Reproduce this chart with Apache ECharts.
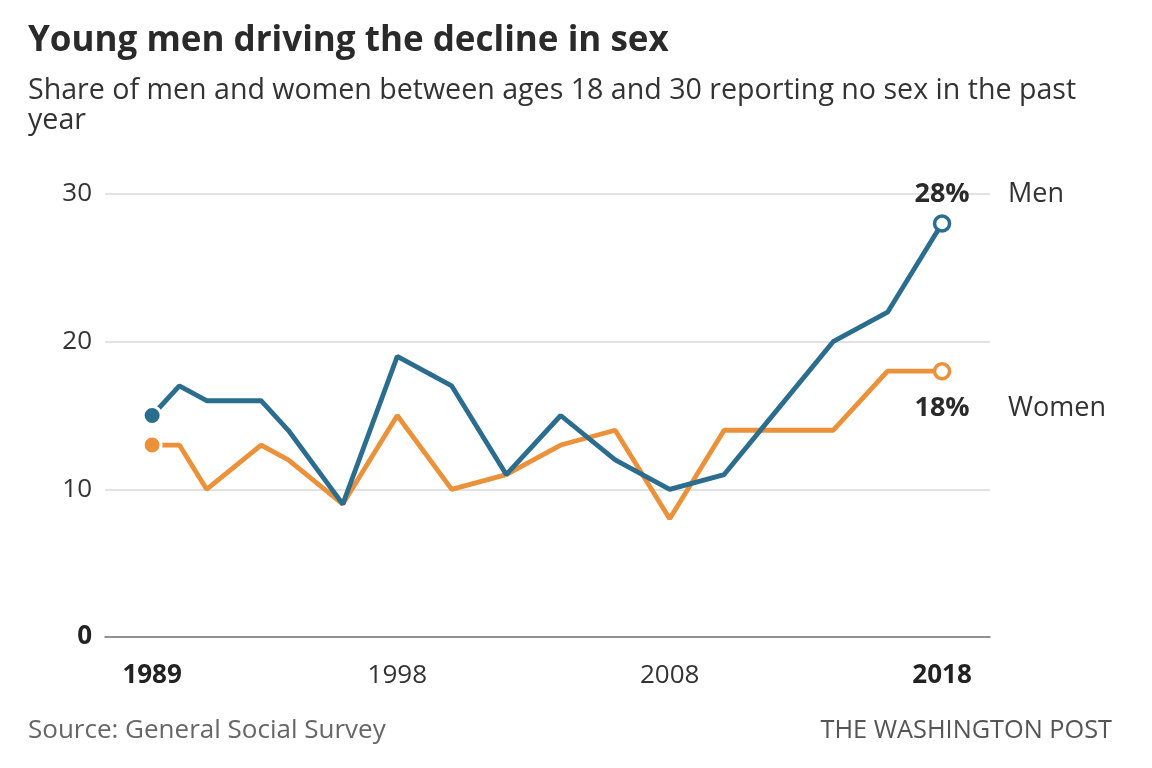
<!DOCTYPE html>
<html>
	<head>
		<meta charset="UTF-8">
		<title>Young men driving the decline in sex</title>
		<script src="https://cdn.jsdelivr.net/npm/echarts@6/dist/echarts.min.js" type="text/javascript" charset="utf-8"></script>
		<style>
			html, body { margin: 0; padding: 0; background: #fff; }
			#chart { width: 1152px; height: 768px; }
		</style>
	</head>
	<body>
		<div id="chart"></div>
		<script type="text/javascript">
			// 数据
			var years = [1989, 1990, 1991, 1993, 1994, 1996, 1998, 2000, 2002, 2004, 2006, 2008, 2010, 2012, 2014, 2016, 2018];
			var men = [15, 17, 16, 16, 14, 9, 19, 17, 11, 15, 12, 10, 11, 15.5, 20, 22, 28];
			var women = [13, 13, 10, 13, 12, 9, 15, 10, 11, 13, 14, 8, 14, 14, 14, 18, 18];
			var yearTicks = [1989, 1998, 2008, 2018];
			var boldYears = [1989, 2018];
			var valueTicks = [0, 10, 20, 30];

			var menColor = '#2b6d8e';
			var womenColor = '#eb9139';
			var font = '"Open Sans", Roboto, sans-serif';

			function buildData(values, color) {
				var out = [];
				for (var i = 0; i < values.length; i++) {
					var item = { value: [years[i], values[i]], symbolSize: 0 };
					if (i === 0) {
						// 起点：实心圆，白边留出空隙
						item.symbolSize = 18;
						item.itemStyle = { color: color, borderColor: '#fff', borderWidth: 3 };
					} else if (i === values.length - 1) {
						// 终点：空心圆
						item.symbolSize = 15;
						item.itemStyle = { color: '#fff', borderColor: color, borderWidth: 3.5 };
					}
					out.push(item);
				}
				return out;
			}

			function endMarks(values, pctDy, name) {
				var last = values.length - 1;
				var coord = [years[last], values[last]];
				return {
					symbol: 'circle',
					symbolSize: 0,
					silent: true,
					data: [
						{
							coord: coord,
							label: {
								show: true, formatter: values[last] + '%',
								offset: [0, pctDy], align: 'center', verticalAlign: 'middle',
								fontFamily: font, fontSize: 27, fontWeight: 'bold', color: '#2a2a2a'
							}
						},
						{
							coord: coord,
							label: {
								show: true, formatter: name,
								offset: [66, pctDy], align: 'left', verticalAlign: 'middle',
								fontFamily: font, fontSize: 27, color: '#333'
							}
						}
					]
				};
			}

			var myChart = echarts.init(document.getElementById('chart'));
			var option = {
				animation: false,
				title: [
					{
						text: 'Young men driving the decline in sex',
						left: 28, top: 21, padding: 0,
						textStyle: { fontFamily: font, fontSize: 35, fontWeight: 'bold', color: '#2a2a2a', lineHeight: 40 }
					},
					{
						text: 'Share of men and women between ages 18 and 30 reporting no sex in the past\nyear',
						left: 28, top: 76, padding: 0,
						textStyle: { fontFamily: font, fontSize: 28.6, fontWeight: 'normal', color: '#333', lineHeight: 30 }
					},
					{
						text: 'Source: General Social Survey',
						left: 28, top: 718, padding: 0,
						textStyle: { fontFamily: font, fontSize: 26, fontWeight: 'normal', color: '#666', lineHeight: 26 }
					},
					{
						text: 'THE WASHINGTON POST',
						right: 40, top: 718, padding: 0,
						textStyle: { fontFamily: font, fontSize: 25.3, fontWeight: 'normal', color: '#555', lineHeight: 26 }
					}
				],
				grid: { left: 105, right: 162, top: 194, bottom: 131, containLabel: false },
				xAxis: {
					type: 'value',
					min: 1987.27,
					max: 2019.76,
					splitLine: { show: false },
					axisTick: { show: false },
					axisLine: { show: true, lineStyle: { color: '#777', width: 1.5 } },
					axisLabel: {
						customValues: yearTicks,
						margin: 26,
						fontFamily: font, fontSize: 26, color: '#333',
						formatter: function (v) {
							return boldYears.indexOf(v) >= 0 ? '{b|' + v + '}' : String(v);
						},
						rich: { b: { fontFamily: font, fontSize: 26, fontWeight: 'bold', color: '#222' } }
					}
				},
				yAxis: {
					type: 'value',
					min: 0,
					max: 30,
					interval: 10,
					axisLine: { show: false },
					axisTick: { show: false },
					splitLine: { show: true, lineStyle: { color: '#d9d9d9', width: 1.5 } },
					axisLabel: {
						margin: 13,
						fontFamily: font, fontSize: 26, color: '#333',
						formatter: function (v) {
							return v === 0 ? '{b|0}' : String(v);
						},
						rich: { b: { fontFamily: font, fontSize: 26, fontWeight: 'bold', color: '#222' } }
					}
				},
				series: [
					{
						name: 'Women',
						type: 'line',
						symbol: 'circle',
						showAllSymbol: true,
						lineStyle: { color: womenColor, width: 4.8 },
						itemStyle: { color: womenColor },
						data: buildData(women, womenColor),
						markPoint: endMarks(women, 37, 'Women'),
						z: 2
					},
					{
						name: 'Men',
						type: 'line',
						symbol: 'circle',
						showAllSymbol: true,
						lineStyle: { color: menColor, width: 4.8 },
						itemStyle: { color: menColor },
						data: buildData(men, menColor),
						markPoint: endMarks(men, -29, 'Men'),
						z: 3
					}
				]
			};
			myChart.setOption(option);
		</script>
	</body>
</html>
